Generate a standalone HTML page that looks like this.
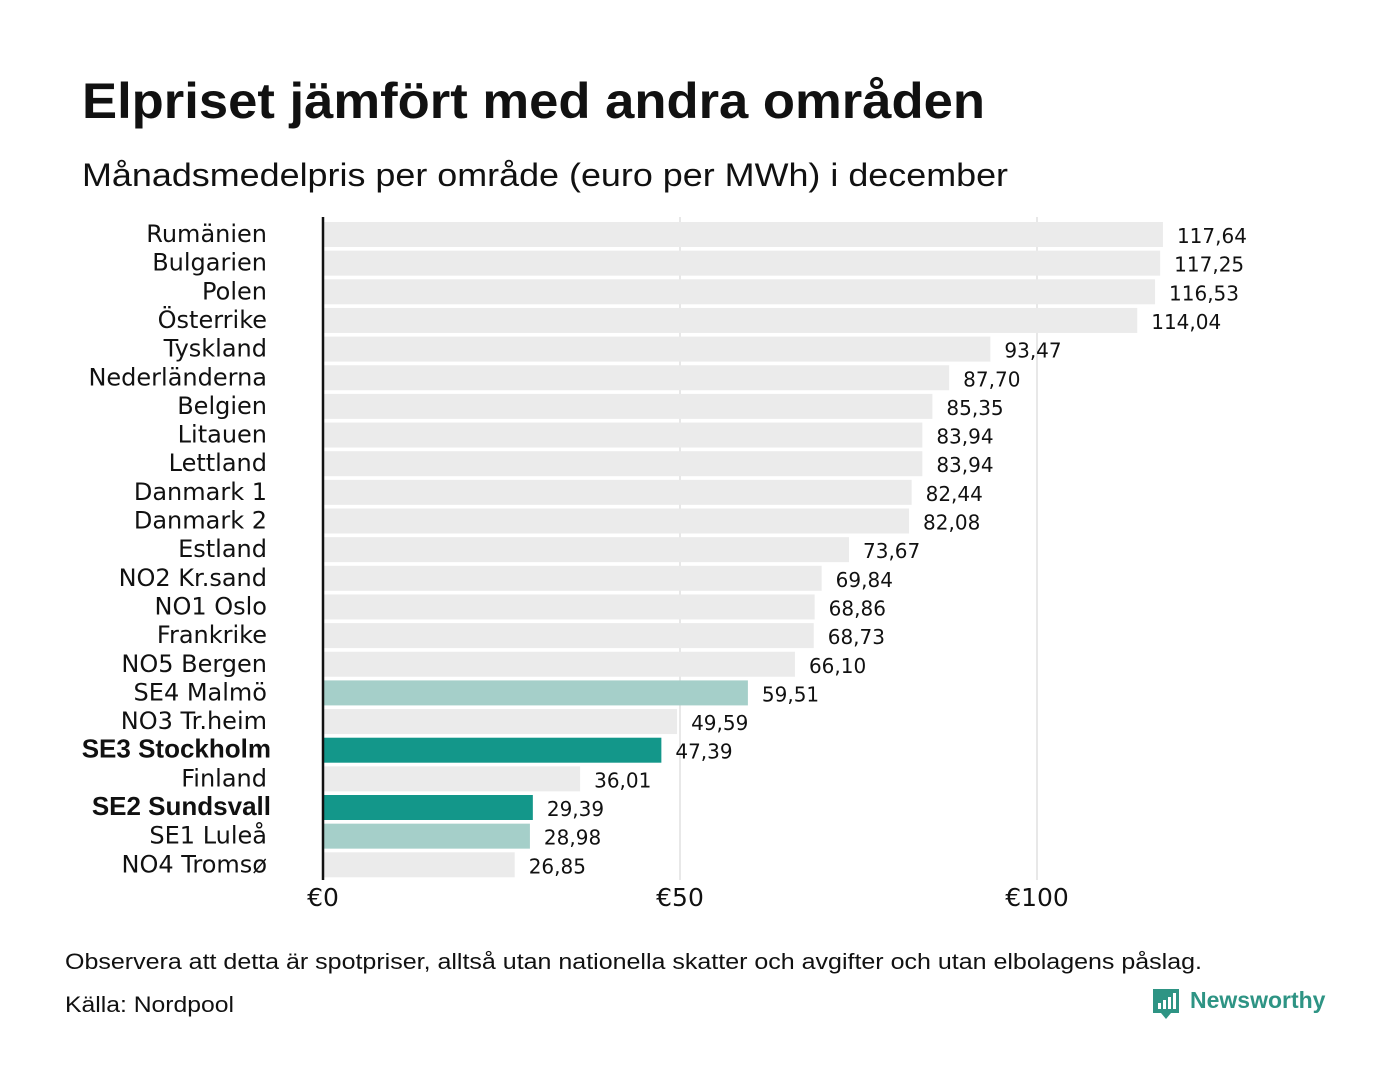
<!DOCTYPE html>
<html><head><meta charset="utf-8"><style>
body{margin:0;background:#fff;font-family:"Liberation Sans","DejaVu Sans",sans-serif;}
</style></head><body>
<svg width="1400" height="1080" xmlns="http://www.w3.org/2000/svg">
<rect width="1400" height="1080" fill="#fff"/>
<text x="82" y="118" font-size="50" font-weight="bold" fill="#111" textLength="903" lengthAdjust="spacingAndGlyphs">Elpriset jämfört med andra områden</text>
<text x="82" y="186" font-size="32" fill="#111" textLength="926" lengthAdjust="spacingAndGlyphs">Månadsmedelpris per område (euro per MWh) i december</text>
<g id="grid"></g>
<g id="bars"></g>
<line x1="323" y1="217" x2="323" y2="880" stroke="#111" stroke-width="2.5"/>
<g id="xticks"></g>
<text x="65" y="969" font-size="22" fill="#111" textLength="1137" lengthAdjust="spacingAndGlyphs">Observera att detta är spotpriser, alltså utan nationella skatter och avgifter och utan elbolagens påslag.</text>
<text x="65" y="1012" font-size="22" fill="#111" textLength="169" lengthAdjust="spacingAndGlyphs">Källa: Nordpool</text>
<g>
<path d="M1153 989 h26 v24 h-8 l-5 6 l-5 -6 h-8 z" fill="#2e9484"/>
<rect x="1158" y="1003" width="3" height="6" fill="#fff"/><rect x="1163" y="1000" width="3" height="9" fill="#fff"/><rect x="1168" y="997" width="3" height="12" fill="#fff"/><rect x="1173" y="993" width="3" height="16" fill="#fff"/>
<text x="1190" y="1008" font-size="23" font-weight="bold" fill="#2e9484">Newsworthy</text>
</g>
</svg>
<script>
const categories=["Rumänien","Bulgarien","Polen","Österrike","Tyskland","Nederländerna","Belgien","Litauen","Lettland","Danmark  1","Danmark  2","Estland","NO2 Kr.sand","NO1 Oslo","Frankrike","NO5 Bergen","SE4  Malmö","NO3 Tr.heim","SE3 Stockholm","Finland","SE2 Sundsvall","SE1  Luleå","NO4 Tromsø"];
const values=[117.64,117.25,116.53,114.04,93.47,87.70,85.35,83.94,83.94,82.44,82.08,73.67,69.84,68.86,68.73,66.10,59.51,49.59,47.39,36.01,29.39,28.98,26.85];
const highlight=["none","none","none","none","none","none","none","none","none","none","none","none","none","none","none","none","light","none","dark","none","dark","light","none"];
const xTicks=[0,50,100];
const xTickLabels=["€0","€50","€100"];
const NS="http://www.w3.org/2000/svg";
const x=v=>323+v*7.14;
const rowY=i=>222+i*28.65;
function mk(t,a,p){const e=document.createElementNS(NS,t);for(const k in a)e.setAttribute(k,a[k]);p.appendChild(e);return e;}
const grid=document.getElementById('grid'),bars=document.getElementById('bars'),xt=document.getElementById('xticks');
xTicks.forEach((t,i)=>{
 if(t>0){const l=mk('line',{x1:x(t),x2:x(t),y1:217,y2:880,stroke:'#d0d0d0','stroke-width':1},grid);
 
 }
 const tx=mk('text',{x:x(t),y:906,'font-size':25,'text-anchor':'middle',fill:'#111','font-family':'DejaVu Sans, sans-serif'},xt);tx.textContent=xTickLabels[i];
 
 
});
const col={none:'#ebebeb',light:'#a5cfc9',dark:'#13978a'};
categories.forEach((c,i)=>{
 const y=rowY(i);
 const r=mk('rect',{x:323,y:y,width:x(values[i])-323,height:25,fill:col[highlight[i]]},bars);
 
 
 const bold=highlight[i]==='dark';
 const lb=mk('text',{x:bold?271:267,y:y+20,'font-size':bold?26:24,'font-weight':bold?'bold':'normal','text-anchor':'end',fill:'#111','font-family':bold?'Liberation Sans, sans-serif':'DejaVu Sans, sans-serif','xml:space':'preserve'},bars);lb.textContent=c;
 
 
 const vl=mk('text',{x:x(values[i])+14,y:y+21,'font-size':20,fill:'#111','font-family':'DejaVu Sans, sans-serif'},bars);vl.textContent=values[i].toFixed(2).replace('.',',');
 
 
});
</script>
</body></html>
